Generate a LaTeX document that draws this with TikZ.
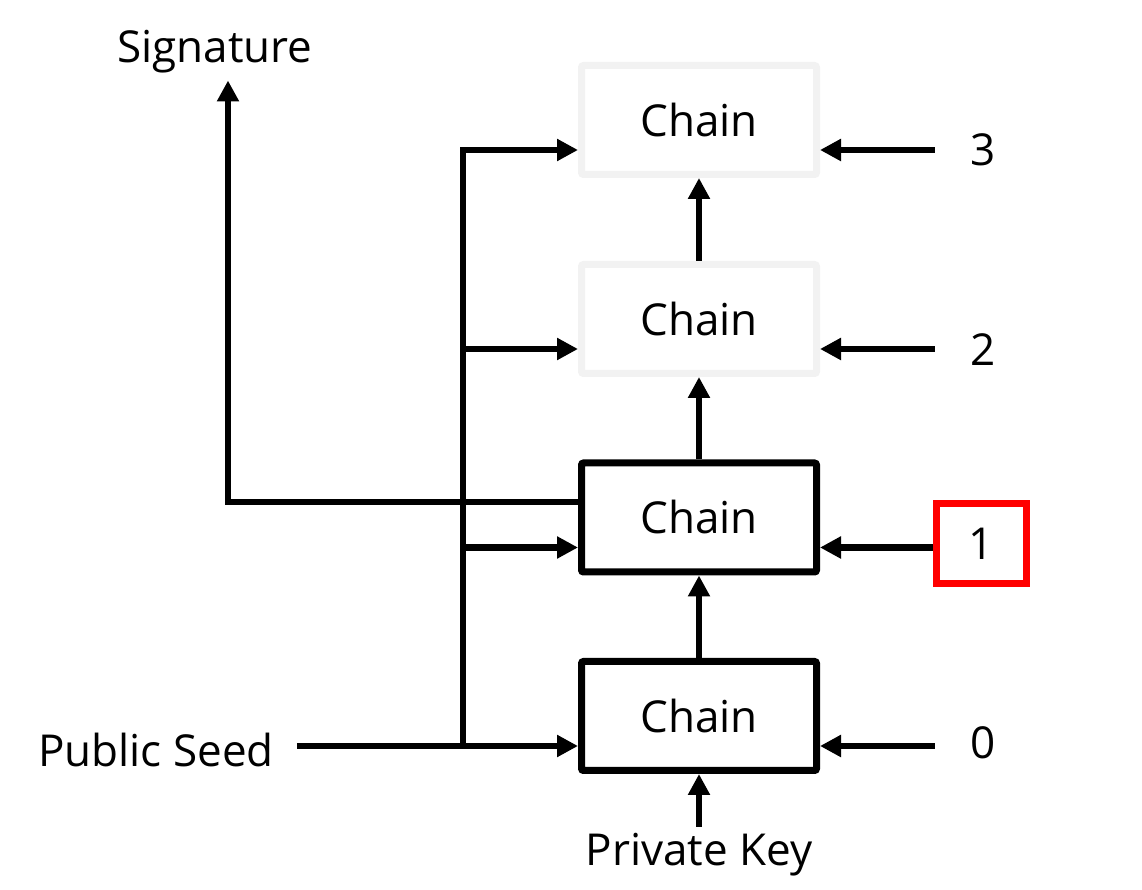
\documentclass[tikz,border=0pt]{standalone}
\usepackage{fontspec}
\setmainfont{Open Sans}
\usetikzlibrary{arrows.meta,positioning,calc}
\definecolor{fgrey}{HTML}{F2F2F2}
\definecolor{fred}{HTML}{FF0000}
\tikzset{
  chainbox/.style = {draw, line width=3.5pt, rectangle, rounded corners=1pt,
                     minimum width=117.5pt, minimum height=54.5pt, inner sep=0pt},
  idxbox/.style   = {line width=3.5pt, rectangle, minimum width=45pt,
                     minimum height=40pt, inner sep=0pt},
  flow/.style     = {-{Triangle[length=10.5pt,width=10.5pt]}, line width=3.3pt},
  wire/.style     = {line width=3.3pt},
}

\begin{document}
\begin{tikzpicture}[x=0.5pt,y=0.5pt,font=\fontsize{22}{26}\selectfont]
\useasboundingbox (0,0) rectangle (1142,890);
% ---- chain stack ----
\foreach \i/\y/\c in {0/174/black, 1/372.5/black, 2/571/fgrey, 3/770/fgrey}{
  \node[chainbox,draw=\c] (chain\i) at (699,\y) {Chain};
  \coordinate (lin\i) at ([yshift=-15pt]chain\i.west);
  \coordinate (rin\i) at ([yshift=-15pt]chain\i.east);}
\foreach \i/\j in {0/1, 1/2, 2/3}
  \draw[flow] (chain\i.north) -- (chain\j.south);
% ---- index inputs, right ----
\foreach \i/\y in {0/147, 2/540, 3/740}{
  \node[idxbox] (idx\i) at (983,\y) {\i};}
\node[idxbox,draw=fred] (idx1) at (981.5,346.5) {1};
\foreach \i in {0,...,3}
  \draw[flow] (idx\i.west |- rin\i) -- (rin\i);
% ---- public seed bus, left ----
\coordinate (bus) at (463,0);
\node (seed) at (156,140) {Public Seed};
\coordinate (seedend) at ([xshift=8pt]seed.east);
\draw[wire] (seedend |- lin0) -- (bus |- lin0);
\draw[flow] (bus |- lin0) |- (lin3);
\foreach \i in {0,1,2}
  \draw[flow] (bus |- lin\i) -- (lin\i);
% ---- signature out, private key in ----
\node (signature) at (215,838) {Signature};
\draw[flow] ([yshift=7.75pt]chain1.west) -| ($(signature.south)+(13,0)$);
\node (priv) at (699,35) {Private Key};
\draw[flow] (priv.north) -- (chain0.south);
\end{tikzpicture}
\end{document}
